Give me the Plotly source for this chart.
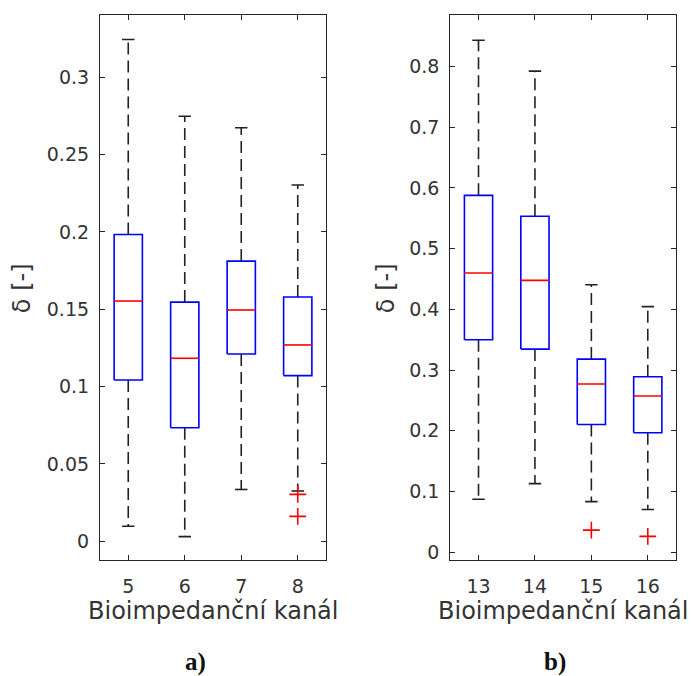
import plotly.graph_objects as go

# Channel labels for the two panels
channels_a = [5, 6, 7, 8]
channels_b = [13, 14, 15, 16]

# Box statistics per channel: lower whisker, Q1, median, Q3, upper whisker
low_a = [0.0097, 0.0030, 0.0335, 0.0325]
q1_a = [0.1043, 0.0734, 0.1211, 0.1071]
med_a = [0.1553, 0.1183, 0.1495, 0.1269]
q3_a = [0.1983, 0.1546, 0.1811, 0.1579]
high_a = [0.3243, 0.2747, 0.2673, 0.2303]
outliers_a = [[], [], [], [0.0303, 0.0161]]

low_b = [0.0870, 0.1128, 0.0832, 0.0701]
q1_b = [0.3498, 0.3345, 0.2102, 0.1966]
med_b = [0.4598, 0.4478, 0.2770, 0.2573]
q3_b = [0.5878, 0.5534, 0.3180, 0.2890]
high_b = [0.8435, 0.7926, 0.4406, 0.4044]
outliers_b = [[], [], [0.0361], [0.0258]]

# Axis ticks
yticks_a = [0, 0.05, 0.1, 0.15, 0.2, 0.25, 0.3]
yticklabels_a = ["0", "0.05", "0.1", "0.15", "0.2", "0.25", "0.3"]
yticks_b = [0, 0.1, 0.2, 0.3, 0.4, 0.5, 0.6, 0.7, 0.8]
yticklabels_b = ["0", "0.1", "0.2", "0.3", "0.4", "0.5", "0.6", "0.7", "0.8"]

x_title = "Bioimpedanční kanál"
y_title = "δ [-]"

W, H = 691, 676
BOX_HALF = 0.25
CAP_HALF = 0.11
TEXT = "#333333"
TICK_FONT = dict(family="DejaVu Sans", size=19, color=TEXT)
LABEL_FONT = dict(family="DejaVu Sans", size=24, color=TEXT)

fig = go.Figure()


def add_panel(xa, ya, pos, low, q1, med, q3, high, outl):
    wx, wy, cx, cy, bx, by, mx, my, ox, oy = ([] for _ in range(10))
    for i in range(len(pos)):
        x = i + 1
        # dashed whiskers
        wx += [x, x, None, x, x, None]
        wy += [q3[i], high[i], None, q1[i], low[i], None]
        # whisker caps
        cx += [x - CAP_HALF, x + CAP_HALF, None, x - CAP_HALF, x + CAP_HALF, None]
        cy += [high[i], high[i], None, low[i], low[i], None]
        # box outline
        bx += [x - BOX_HALF, x + BOX_HALF, x + BOX_HALF, x - BOX_HALF, x - BOX_HALF, None]
        by += [q1[i], q1[i], q3[i], q3[i], q1[i], None]
        # median
        mx += [x - BOX_HALF, x + BOX_HALF, None]
        my += [med[i], med[i], None]
        for v in outl[i]:
            ox.append(x)
            oy.append(v)
    common = dict(xaxis=xa, yaxis=ya, showlegend=False, hoverinfo="skip")
    fig.add_trace(go.Scatter(x=wx, y=wy, mode="lines",
                             line=dict(color="#222222", width=1.6, dash="12px,6px"), **common))
    fig.add_trace(go.Scatter(x=cx, y=cy, mode="lines",
                             line=dict(color="#222222", width=1.6), **common))
    fig.add_trace(go.Scatter(x=bx, y=by, mode="lines",
                             line=dict(color="#0000ff", width=1.6), **common))
    fig.add_trace(go.Scatter(x=mx, y=my, mode="lines",
                             line=dict(color="#ff0000", width=1.6), **common))
    fig.add_trace(go.Scatter(x=ox, y=oy, mode="markers",
                             marker=dict(symbol="cross-thin", size=12, color="#ff0000",
                                         line=dict(color="#ff0000", width=1.6)), **common))


add_panel("x", "y", channels_a, low_a, q1_a, med_a, q3_a, high_a, outliers_a)
add_panel("x2", "y2", channels_b, low_b, q1_b, med_b, q3_b, high_b, outliers_b)

axis_style = dict(showline=True, linecolor="#262626", linewidth=1.2, mirror="ticks",
                  ticks="inside", ticklen=5, tickcolor="#262626", tickwidth=1.2,
                  showgrid=False, zeroline=False, tickfont=TICK_FONT)

y_dom = [1 - 562 / H, 1 - 15.3 / H]

fig.update_layout(
    width=W, height=H,
    margin=dict(l=0, r=0, t=0, b=0),
    paper_bgcolor="white", plot_bgcolor="white",
    xaxis=dict(domain=[100 / W, 326 / W], range=[0.5, 4.5],
               tickvals=[1, 2, 3, 4], ticktext=[str(c) for c in channels_a],
               anchor="y", ticklabelstandoff=9, **axis_style),
    yaxis=dict(domain=y_dom, range=[-0.0123, 0.340],
               tickvals=yticks_a, ticktext=yticklabels_a,
               anchor="x", ticklabelstandoff=6, **axis_style),
    xaxis2=dict(domain=[450.3 / W, 676 / W], range=[0.5, 4.5],
                tickvals=[1, 2, 3, 4], ticktext=[str(c) for c in channels_b],
                anchor="y2", ticklabelstandoff=9, **axis_style),
    yaxis2=dict(domain=y_dom, range=[-0.0136, 0.8846],
                tickvals=yticks_b, ticktext=yticklabels_b,
                anchor="x2", ticklabelstandoff=6, **axis_style),
)


def ann(text, px, py, font, angle=0):
    fig.add_annotation(text=text, xref="paper", yref="paper",
                       x=px / W, y=1 - py / H, xanchor="center", yanchor="middle",
                       showarrow=False, font=font, textangle=angle)


ann(x_title, 213, 613, LABEL_FONT)
ann(x_title, 563, 613, LABEL_FONT)
ann(y_title, 22, 289, LABEL_FONT, -90)
ann(y_title, 386, 289, LABEL_FONT, -90)

panel_font = dict(family="Liberation Serif", size=25, color="#111111")
ann("<b>a)</b>", 196, 664, panel_font)
ann("<b>b)</b>", 555, 664, panel_font)

fig.write_html("out.html")
